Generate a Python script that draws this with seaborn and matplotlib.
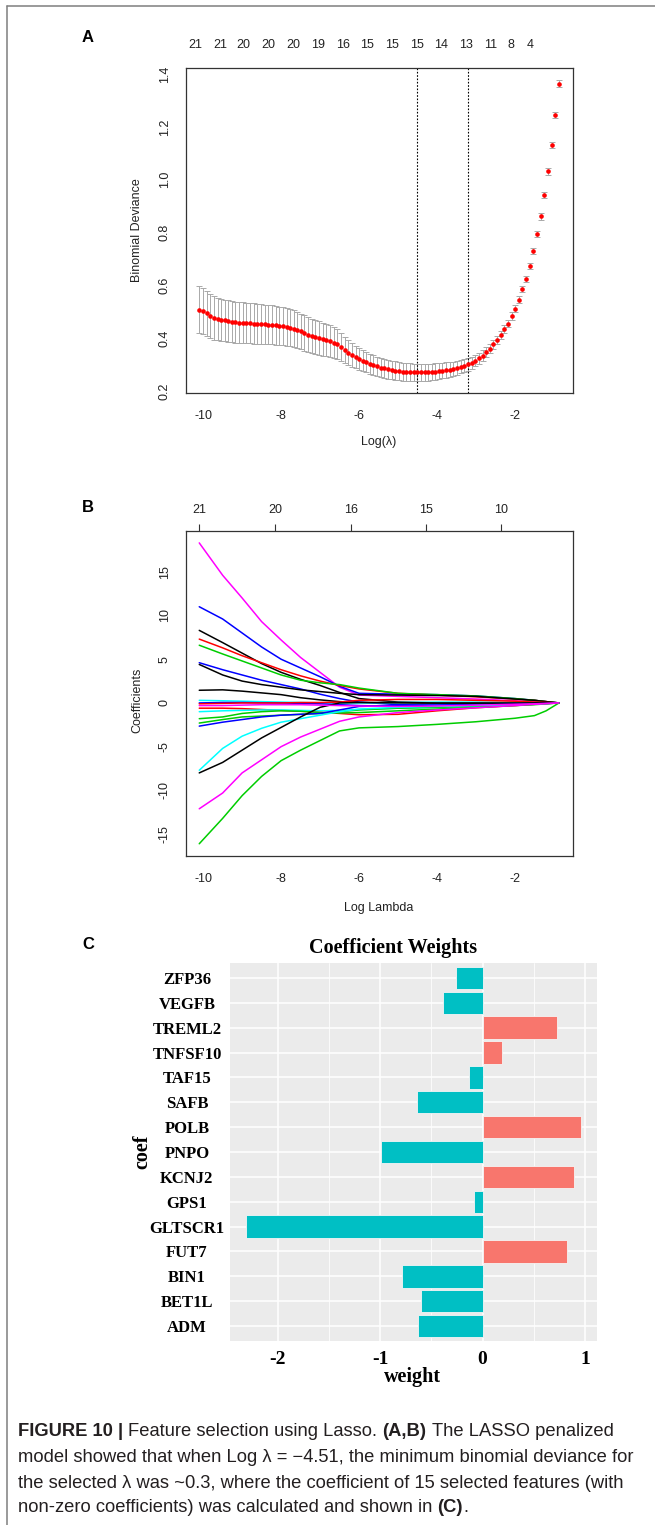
import numpy as np
import pandas as pd
import matplotlib
matplotlib.use("Agg")
import matplotlib.pyplot as plt
import seaborn as sns
from matplotlib.lines import Line2D

# ---------------- data: panel A (cross-validation curve) ----------------
cv_loglambda = [
    -10.10, -10.01, -9.91, -9.82, -9.73, -9.63, -9.54, -9.45, -9.35, -9.26,
    -9.17, -9.08, -8.98, -8.89, -8.80, -8.70, -8.61, -8.52, -8.42, -8.33,
    -8.24, -8.14, -8.05, -7.96, -7.86, -7.77, -7.68, -7.58, -7.49, -7.40,
    -7.30, -7.21, -7.12, -7.02, -6.93, -6.84, -6.75, -6.65, -6.56, -6.47,
    -6.37, -6.28, -6.19, -6.09, -6.00, -5.91, -5.81, -5.72, -5.63, -5.53,
    -5.44, -5.35, -5.25, -5.16, -5.07, -4.97, -4.88, -4.79, -4.69, -4.60,
    -4.51, -4.41, -4.32, -4.23, -4.13, -4.04, -3.95, -3.86, -3.76, -3.67,
    -3.58, -3.48, -3.39, -3.30, -3.20, -3.11, -3.02, -2.92, -2.83, -2.74,
    -2.64, -2.55, -2.46, -2.36, -2.27, -2.18, -2.08, -1.99, -1.90, -1.81,
    -1.71, -1.62, -1.53, -1.43, -1.34, -1.25, -1.15, -1.06, -0.97, -0.87]
cv_deviance = [
    0.508, 0.502, 0.494, 0.484, 0.476, 0.472, 0.469, 0.467, 0.464, 0.462,
    0.460, 0.459, 0.458, 0.457, 0.456, 0.455, 0.454, 0.453, 0.452, 0.451,
    0.450, 0.448, 0.446, 0.445, 0.443, 0.440, 0.436, 0.431, 0.425, 0.419,
    0.413, 0.408, 0.404, 0.400, 0.396, 0.392, 0.388, 0.383, 0.377, 0.368,
    0.356, 0.345, 0.336, 0.328, 0.322, 0.315, 0.309, 0.303, 0.298, 0.293,
    0.288, 0.285, 0.282, 0.279, 0.277, 0.275, 0.273, 0.272, 0.271, 0.270,
    0.270, 0.270, 0.270, 0.271, 0.272, 0.273, 0.275, 0.277, 0.279, 0.281,
    0.284, 0.287, 0.291, 0.295, 0.300, 0.306, 0.314, 0.323, 0.334, 0.347,
    0.359, 0.376, 0.392, 0.410, 0.433, 0.455, 0.483, 0.512, 0.546, 0.586,
    0.625, 0.674, 0.731, 0.794, 0.861, 0.941, 1.031, 1.132, 1.244, 1.364]
cv_se = [
    0.088, 0.087, 0.086, 0.084, 0.082, 0.081, 0.080, 0.079, 0.079, 0.078,
    0.078, 0.077, 0.077, 0.077, 0.076, 0.076, 0.076, 0.075, 0.075, 0.075,
    0.074, 0.074, 0.073, 0.073, 0.072, 0.071, 0.070, 0.069, 0.068, 0.067,
    0.066, 0.065, 0.064, 0.063, 0.062, 0.061, 0.060, 0.058, 0.056, 0.053,
    0.050, 0.047, 0.044, 0.042, 0.041, 0.040, 0.039, 0.038, 0.038, 0.037,
    0.037, 0.036, 0.036, 0.035, 0.035, 0.035, 0.034, 0.034, 0.034, 0.033,
    0.033, 0.033, 0.032, 0.032, 0.031, 0.031, 0.030, 0.030, 0.029, 0.028,
    0.027, 0.026, 0.025, 0.024, 0.023, 0.022, 0.021, 0.020, 0.019, 0.018,
    0.017, 0.016, 0.016, 0.015, 0.015, 0.014, 0.014, 0.013, 0.013, 0.013,
    0.012, 0.012, 0.012, 0.012, 0.012, 0.012, 0.012, 0.012, 0.012, 0.012]
lambda_min = -4.51
lambda_1se = -3.20
cv_top_pos = [-10.21, -9.56, -8.97, -8.33, -7.68, -7.04, -6.40, -5.79,
              -5.16, -4.52, -3.90, -3.26, -2.62, -2.10, -1.62]
cv_top_labels = ["21", "21", "20", "20", "20", "19", "16", "15",
                 "15", "15", "14", "13", "11", "8", "4"]
a_xticks = [-10, -8, -6, -4, -2]
a_yticks = [0.2, 0.4, 0.6, 0.8, 1.0, 1.2, 1.4]

# ---------------- data: panel B (coefficient paths) ----------------
path_loglambda = [-10.1, -9.5, -9.0, -8.5, -8.0, -7.5, -7.0, -6.5, -6.0,
                  -5.0, -4.0, -3.0, -2.0, -1.5, -1.2, -0.87]
path_01 = [18.3, 14.6, 12.0, 9.3, 7.2, 5.2, 3.5, 1.8, 0.9, 0.75, 0.6, 0.45, 0.25, 0.12, 0.06, 0]
path_02 = [11.0, 9.6, 8.0, 6.4, 5.0, 4.0, 3.0, 1.9, 1.1, 1.0, 0.95, 0.8, 0.5, 0.3, 0.15, 0]
path_03 = [8.3, 6.9, 5.7, 4.5, 3.5, 2.7, 2.0, 1.2, 0.5, 0.1, 0.0, 0, 0, 0, 0, 0]
path_04 = [7.3, 6.3, 5.4, 4.6, 3.8, 3.1, 2.5, 2.0, 1.6, 1.1, 0.9, 0.7, 0.45, 0.3, 0.15, 0]
path_05 = [6.6, 5.6, 4.8, 4.0, 3.2, 2.6, 2.3, 2.1, 1.7, 1.1, 0.95, 0.8, 0.5, 0.3, 0.15, 0]
path_06 = [4.6, 3.8, 3.2, 2.6, 2.1, 1.6, 1.0, 0.5, 0.1, -0.2, -0.25, -0.2, -0.15, -0.1, -0.05, 0]
path_07 = [4.4, 3.2, 2.5, 2.1, 1.8, 1.5, 1.3, 1.1, 0.95, 0.9, 0.85, 0.75, 0.45, 0.3, 0.15, 0]
path_08 = [1.45, 1.5, 1.35, 1.15, 0.95, 0.6, 0.35, 0.15, 0.05, 0, 0, 0, 0, 0, 0, 0]
path_09 = [0.3, 0.25, 0.2, 0.15, 0.1, 0.05, 0.0, 0.0, 0.0, 0.05, 0.1, 0.1, 0.05, 0.03, 0.01, 0]
path_10 = [0.0, 0.05, 0.05, 0.02, 0.0, -0.05, -0.1, -0.2, -0.3, -0.4, -0.35, -0.25, -0.15, -0.1, -0.05, 0]
path_11 = [-0.1, -0.05, 0.0, 0.0, 0.0, 0.05, 0.05, 0.1, 0.3, 0.4, 0.4, 0.3, 0.2, 0.1, 0.05, 0]
path_12 = [-0.6, -0.6, -0.65, -0.75, -0.85, -0.95, -1.05, -1.2, -1.35, -1.3, -0.9, -0.55, -0.3, -0.15, -0.08, 0]
path_13 = [-1.0, -0.9, -0.85, -0.8, -0.8, -0.85, -0.9, -0.85, -0.75, -0.6, -0.5, -0.4, -0.25, -0.15, -0.08, 0]
path_14 = [-1.8, -1.6, -1.2, -1.0, -0.9, -0.95, -1.1, -1.15, -1.1, -0.9, -0.7, -0.5, -0.3, -0.2, -0.1, 0]
path_15 = [-2.3, -1.9, -1.6, -1.5, -1.4, -1.3, -1.2, -1.0, -0.8, -0.6, -0.5, -0.35, -0.2, -0.1, -0.05, 0]
path_16 = [-2.65, -2.2, -1.9, -1.6, -1.4, -1.3, -1.2, -0.8, -0.4, -0.3, -0.25, -0.2, -0.1, -0.05, -0.02, 0]
path_17 = [-7.7, -5.2, -3.8, -2.9, -2.2, -1.8, -1.4, -1.0, -0.7, -0.5, -0.4, -0.3, -0.2, -0.1, -0.05, 0]
path_18 = [-8.0, -6.8, -5.4, -4.0, -2.8, -1.6, -0.5, 0.0, 0.05, 0.05, 0.0, 0, 0, 0, 0, 0]
path_19 = [-12.1, -10.3, -8.0, -6.5, -5.0, -3.9, -3.0, -2.1, -1.6, -1.1, -0.8, -0.55, -0.3, -0.15, -0.08, 0]
path_20 = [-16.1, -13.2, -10.6, -8.4, -6.6, -5.4, -4.3, -3.2, -2.85, -2.7, -2.45, -2.15, -1.75, -1.45, -0.9, 0]
path_21 = [-0.3, -0.3, -0.25, -0.2, -0.2, -0.2, -0.25, -0.3, -0.35, -0.4, -0.35, -0.25, -0.15, -0.1, -0.05, 0]
paths = [path_01, path_02, path_03, path_04, path_05, path_06, path_07,
         path_08, path_09, path_10, path_11, path_12, path_13, path_14,
         path_15, path_16, path_17, path_18, path_19, path_20, path_21]
path_colors = ["#FF00FF", "#0000FF", "#000000", "#FF0000", "#00CD00", "#0000FF",
               "#000000", "#000000", "#00FFFF", "#0000FF", "#FF0000", "#FF0000",
               "#00FFFF", "#00CD00", "#00CD00", "#0000FF", "#00FFFF", "#000000",
               "#FF00FF", "#00CD00", "#FF00FF"]
b_top_pos = [-10.10, -8.15, -6.21, -4.28, -2.36]
b_top_labels = ["21", "20", "16", "15", "10"]
b_xticks = [-10, -8, -6, -4, -2]
b_yticks = [-15, -10, -5, 0, 5, 10, 15]

# ---------------- data: panel C (coefficient weights) ----------------
genes = ["ZFP36", "VEGFB", "TREML2", "TNFSF10", "TAF15", "SAFB", "POLB", "PNPO",
         "KCNJ2", "GPS1", "GLTSCR1", "FUT7", "BIN1", "BET1L", "ADM"]
weights = [-0.26, -0.39, 0.73, 0.19, -0.13, -0.64, 0.96, -0.99,
           0.89, -0.08, -2.31, 0.82, -0.79, -0.60, -0.63]
c_xticks = [-2, -1, 0, 1]
c_minor = [-1.5, -0.5, 0.5]

# ---------------- figure ----------------
sns.set_theme(style="white")
plt.rcParams['font.family'] = ['Liberation Sans', 'DejaVu Sans']
W, H = 655, 1525
fig = plt.figure(figsize=(W / 100, H / 100), dpi=100)
fig.patch.set_facecolor("white")


def rect(l, t, r, b):
    return [l / W, 1 - b / H, (r - l) / W, (b - t) / H]


def ftext(x, y, s, **kw):
    return fig.text(x / W, 1 - y / H, s, **kw)


SANS = ['Liberation Sans', 'DejaVu Sans']
SERIF = ['Liberation Serif', 'DejaVu Serif']
AXC = "#333333"


def r_style(ax):
    for sp in ax.spines.values():
        sp.set_visible(True)
        sp.set_color(AXC)
        sp.set_linewidth(0.9)
    ax.tick_params(axis='both', direction='out', length=5, width=0.8,
                   color=AXC, labelsize=9, labelcolor="#222222")
    ax.tick_params(axis='x', pad=7)
    ax.tick_params(axis='y', pad=6)


# ---- Panel A ----
axA = fig.add_axes(rect(186, 68, 573, 393))
axA.errorbar(cv_loglambda, cv_deviance, yerr=cv_se, fmt='none', ecolor='darkgrey',
             elinewidth=0.7, capsize=2.3, capthick=0.7, zorder=1)
sns.scatterplot(x=cv_loglambda, y=cv_deviance, ax=axA, color='red', s=11,
                linewidth=0, zorder=3)
axA.axvline(lambda_min, color='black', ls=(0, (1.5, 1.5)), lw=0.8)
axA.axvline(lambda_1se, color='black', ls=(0, (1.5, 1.5)), lw=0.8)
axA.set_xlim(-10.44, -0.51)
axA.set_ylim(0.192, 1.423)
r_style(axA)
axA.set_xticks(a_xticks)
axA.set_xticklabels([str(v) for v in a_xticks])
axA.set_yticks(a_yticks)
axA.set_yticklabels([f"{v:.1f}" for v in a_yticks], rotation=90, va='center')
axA.set_xlabel("")
axA.set_ylabel("")
secA = axA.secondary_xaxis('top')
secA.set_xticks(cv_top_pos, labels=cv_top_labels)
secA.tick_params(length=0, pad=12, labelsize=9, labelcolor="#222222")
secA.spines['top'].set_visible(False)
ftext(379, 442, "Log(\u03bb)", ha='center', va='center', fontsize=9, color="#222222")
ftext(137, 230, "Binomial Deviance", ha='center', va='center', rotation=90,
      fontsize=9, color="#222222")

# ---- Panel B ----
axB = fig.add_axes(rect(186, 531, 573, 856))
long = pd.DataFrame({
    "loglambda": np.tile(path_loglambda, len(paths)),
    "coef": np.concatenate([np.asarray(p, dtype=float) for p in paths]),
    "path": np.repeat([f"p{i:02d}" for i in range(len(paths))], len(path_loglambda)),
})
pal = {f"p{i:02d}": c for i, c in enumerate(path_colors)}
sns.lineplot(data=long, x="loglambda", y="coef", hue="path", palette=pal,
             estimator=None, sort=False, legend=False, linewidth=1.1, ax=axB)
axB.set_xlim(-10.44, -0.51)
axB.set_ylim(-17.5, 19.66)
r_style(axB)
axB.set_xticks(b_xticks)
axB.set_xticklabels([str(v) for v in b_xticks])
axB.set_yticks(b_yticks)
axB.set_yticklabels([str(v) for v in b_yticks], rotation=90, va='center')
axB.set_xlabel("")
axB.set_ylabel("")
secB = axB.secondary_xaxis('top')
secB.set_xticks(b_top_pos, labels=b_top_labels)
secB.tick_params(direction='out', length=5, width=0.8, color=AXC, pad=6,
                 labelsize=9, labelcolor="#222222")
secB.spines['top'].set_visible(False)
ftext(379, 908, "Log Lambda", ha='center', va='center', fontsize=9, color="#222222")
ftext(137, 700, "Coefficients", ha='center', va='center', rotation=90,
      fontsize=9, color="#222222")

# ---- Panel C ----
axC = fig.add_axes(rect(230, 963, 597, 1341))
axC.set_facecolor("#EBEBEB")
dfc = pd.DataFrame({"coef": genes, "weight": weights,
                    "sign": ["pos" if w > 0 else "neg" for w in weights]})
sns.barplot(data=dfc, x="weight", y="coef", hue="sign", order=genes,
            palette={"pos": "#F8766D", "neg": "#00BFC4"}, dodge=False,
            legend=False, width=0.9, edgecolor="#F5F5F5", linewidth=0.6,
            saturation=1, orient='h', ax=axC, zorder=3)
for sp in axC.spines.values():
    sp.set_visible(False)
axC.set_xlim(-2.466, 1.117)
axC.set_ylim(len(genes) - 0.4, -0.6)
axC.set_xticks(c_xticks)
axC.set_xticklabels([str(v) for v in c_xticks])
axC.set_xticks(c_minor, minor=True)
axC.set_axisbelow(True)
axC.grid(True, which='major', color='white', linewidth=1.1, zorder=0)
axC.grid(True, which='minor', axis='x', color='white', linewidth=0.55, zorder=0)
axC.tick_params(which='minor', length=0)
axC.tick_params(axis='both', which='major', length=4, width=0.8, color="#333333",
                direction='out')
axC.tick_params(axis='x', pad=3)
axC.tick_params(axis='y', pad=27)
for lab in axC.get_yticklabels():
    lab.set_fontfamily(SERIF)
    lab.set_fontweight('bold')
    lab.set_fontsize(12)
    lab.set_color('black')
    lab.set_ha('center')
for lab in axC.get_xticklabels():
    lab.set_fontfamily(SERIF)
    lab.set_fontweight('bold')
    lab.set_fontsize(14)
    lab.set_color('black')
axC.set_xlabel("")
axC.set_ylabel("")
ftext(393, 948, "Coefficient Weights", ha='center', va='center', fontsize=14.5,
      fontweight='bold', family=SERIF, color='black')
ftext(413, 1377, "weight", ha='center', va='center', fontsize=14.5,
      fontweight='bold', family=SERIF, color='black')
ftext(142, 1152, "coef", ha='center', va='center', fontsize=14.5, rotation=90,
      fontweight='bold', family=SERIF, color='black')

# ---- Panel letters ----
for lbl, yy in [("A", 37), ("B", 507), ("C", 945)]:
    ftext(88, yy, lbl, ha='center', va='center', fontsize=12, fontweight='bold',
          family=SANS, color='black')

# ---- frame lines ----
fig.add_artist(Line2D([7 / W, 1.0], [1 - 6 / H, 1 - 6 / H], color="#7f7f7f",
                      lw=1.1, transform=fig.transFigure))
fig.add_artist(Line2D([7 / W, 7 / W], [1 - 6 / H, 0.0], color="#7f7f7f",
                      lw=1.1, transform=fig.transFigure))

# ---- caption ----
caption_lines = [
    [("FIGURE 10 |", True, False), ("Feature selection using Lasso.", False, True),
     ("(A,B)", True, True), ("The LASSO penalized", False, True)],
    [("model showed that when Log \u03bb = \u22124.51, the minimum binomial deviance for", False, False)],
    [("the selected \u03bb was ~0.3, where the coefficient of 15 selected features (with", False, False)],
    [("non-zero coefficients) was calculated and shown in", False, False), ("(C)", True, True),
     (".", False, False)],
]
caption_y = [1432, 1457, 1483, 1508]
renderer = fig.canvas.get_renderer()
cap_size = 12.2
CAPC = "#231f20"
probe = ftext(0, -100, "model showed that when Log \u03bb = \u22124.51, the minimum binomial deviance for",
              fontsize=cap_size, family=SANS)
wline = probe.get_window_extent(renderer).width
probe.remove()
cap_size = cap_size * 618.0 / wline
p1 = ftext(0, -100, "a a", fontsize=cap_size, family=SANS)
p2 = ftext(0, -100, "aa", fontsize=cap_size, family=SANS)
space_w = p1.get_window_extent(renderer).width - p2.get_window_extent(renderer).width
p1.remove()
p2.remove()
for pieces, yy in zip(caption_lines, caption_y):
    x = 18.0
    for txt, bold, space_before in pieces:
        if space_before:
            x += space_w
        t = ftext(x, yy, txt, fontsize=cap_size, family=SANS,
                  fontweight='bold' if bold else 'normal', ha='left', va='center',
                  color=CAPC)
        x += t.get_window_extent(renderer).width

fig.savefig("out.png", dpi=100, facecolor="white")
